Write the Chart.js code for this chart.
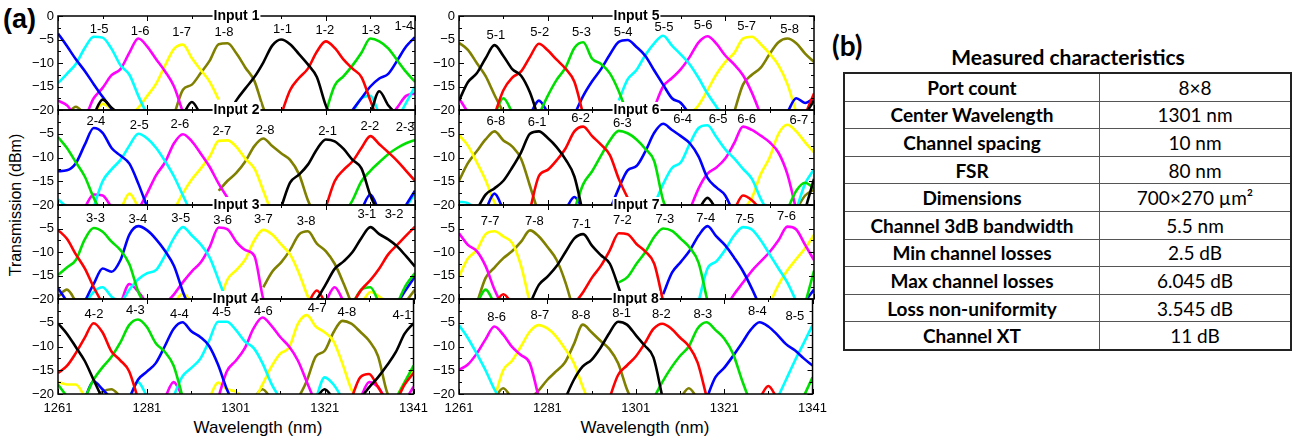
<!DOCTYPE html>
<html>
<head>
<meta charset="utf-8">
<script src="https://cdn.jsdelivr.net/npm/chart.js@4.4.0/dist/chart.umd.min.js"></script>
<style>
  body { margin: 0; background: #fff; }
  #fig { position: relative; width: 1296px; height: 443px; overflow: hidden; background: #fff; font-family: 'Liberation Sans', Arial, sans-serif; }
  .txt { position: absolute; white-space: nowrap; color: #000; }
  #tbl { position: absolute; left: 843px; top: 72px; width: 449px; border-collapse: collapse; border: 2px solid #222;
         font-family: Lato, 'Open Sans', sans-serif; font-size: 19px; color: #000; }
  #tbl td { border: 1px solid #555; padding: 0; text-align: center; height: 26.6px; line-height: 1; }
  #tbl td:first-child { width: 254px; font-weight: bold; }
</style>
</head>
<body>
<div id="fig">
  <div class="txt" style="left:3px;top:3px;font-size:27px;font-weight:bold;line-height:32px;">(a)</div>
  <div class="txt" style="left:-84px;top:195px;width:200px;height:20px;line-height:20px;text-align:center;font-size:16px;transform:rotate(-90deg);">Transmission (dBm)</div>
  <div class="txt" style="left:158px;top:417px;width:200px;text-align:center;font-size:17px;line-height:22px;">Wavelength (nm)</div>
  <div class="txt" style="left:545px;top:417px;width:200px;text-align:center;font-size:17px;line-height:22px;">Wavelength (nm)</div>
  <div class="txt" style="left:832px;top:29px;font-size:28px;font-weight:bold;line-height:32px;font-family:Lato,sans-serif;">(b)</div>
  <div class="txt" style="left:868px;top:45px;width:400px;text-align:center;font-size:21px;font-weight:bold;line-height:24px;font-family:Lato,sans-serif;">Measured characteristics</div>
  <table id="tbl"></table>
</div>
<script>
const _ = null;

// wavelength grid (nm)
const wavelengths = [1261,1263,1265,1267,1269,1271,1273,1275,1277,1279,
                     1281,1283,1285,1287,1289,1291,1293,1295,1297,1299,
                     1301,1303,1305,1307,1309,1311,1313,1315,1317,1319,
                     1321,1323,1325,1327,1329,1331,1333,1335,1337,1339,1341];

// output port colours, output 1..8
const outputColors = ['#000000', '#ff0000', '#00e000', '#0000ff', '#00ffff', '#ff00ff', '#ffff00', '#808000'];

// transmission (dBm) per input, one row per output 1..8
const input1 = [
  [_,_,_,_,-21,-17.8,-19.5,-21,_,_, _,_,_,_,-21,-18.3,-21,_,_,-21, -17.9,-15.4,-13,-9.9,-6.3,-5,-6,-8.1,-10.3,-13, -19,-23,_,_,_,-21,-16,-19,-21,_, _],
  [_,_,_,_,_,_,_,_,_,_, _,_,_,_,_,_,_,_,_,_, _,_,_,_,_,-21,-15.8,-13.2,-11.2,-7.6, -5.4,-6.8,-9.3,-11.2,-13,-18,-23,_,_,_, _],
  [_,_,_,_,_,_,_,_,_,_, _,_,_,_,_,_,_,_,_,_, _,_,_,_,_,_,_,_,_,_, -20.5,-14.8,-12.8,-10.5,-7.8,-4.8,-5.4,-6.9,-9.4,-11.9, -14],
  [-3.7,-6.4,-9.2,-11.7,-14.5,-17.2,-19.7,-22,_,_, _,_,_,_,_,_,_,_,_,_, _,_,_,_,_,_,_,_,_,_, _,_,_,-20,-17.5,-15,-13.3,-12.3,-9.5,-6.5, -4.5],
  [-14.3,-12.3,-10.2,-6.8,-4.4,-4.6,-7,-10.5,-12.5,-17, -21,_,_,_,_,_,_,_,_,_, _,_,_,_,_,_,_,_,_,_, _,_,_,-20.5,-17.5,-17,-21,_,-22,-18.5, -15],
  [-18,-19,-21,-21,-17.5,-15.3,-12.6,-11.3,-7.8,-4.8, -6.5,-9.2,-11.8,-15,-20.5,_,_,_,_,_, _,_,_,_,_,_,_,_,_,_, _,_,_,_,_,_,_,-22,-19.5,-17, -16.5],
  [_,_,_,_,-21,-18.7,-19.8,-21,-21,-19.5, -17,-14.4,-10.5,-7,-6.1,-9,-11.5,-14,-17.8,_, _,_,_,_,_,_,_,_,_,_, _,_,_,_,_,_,_,_,_,_, _],
  [_,-21,-19.3,-21,_,_,_,_,_,_, _,_,_,-21,-15.7,-14.6,-12.1,-9.5,-6,-5.8, -8,-11,-13.8,-19.5,-23,_,_,_,_,_, _,_,_,_,_,_,_,_,_,_, _]
];
const input2 = [
  [_,_,_,_,_,_,_,_,_,_, _,_,_,_,_,_,_,_,_,_, _,_,_,_,_,-20.5,-15.3,-13.6,-11.5,-8.3, -6.2,-6.6,-8.2,-10.5,-12.3,-18,-22,_,_,_, _],
  [_,_,_,_,_,_,_,_,_,_, _,_,_,_,_,_,_,_,_,_, _,_,_,_,_,_,_,_,_,_, -20.5,-15,-12.6,-10.8,-8,-5.5,-7.2,-8.9,-10.7,-12.8, -14.9],
  [-5.7,-8,-11,-14,-18.5,-22,_,_,_,_, _,_,_,_,_,_,_,_,_,_, _,_,_,_,_,_,_,_,_,_, _,_,-22,-19,-15,-12.8,-11,-9.3,-8,-7, -6.3],
  [-12.9,-12.7,-11.2,-7.3,-3.8,-4.8,-8,-9.6,-11.3,-15.5, -20.5,_,_,_,_,_,_,_,_,_, _,_,_,_,_,_,_,_,_,_, _,_,_,_,-21,-17.8,-21.5,_,_,-20, -17],
  [-18.8,-20.5,_,_,-20.5,-15,-12.5,-10.5,-7.5,-5, -6,-8,-10.8,-14,-18,-22,_,_,_,_, _,_,_,_,_,_,_,_,_,_, _,_,_,_,_,_,_,_,_,-20.5, -17.5],
  [_,_,_,-20.5,-17.8,-18,-20.5,_,_,-21, -17.5,-13.7,-11,-7,-5.1,-6.6,-9.2,-12,-15.5,-18.5, _,_,_,_,_,_,_,_,_,_, _,_,_,_,_,_,_,_,_,_, _],
  [_,_,_,_,_,_,_,-21,-17.6,-20.5, _,_,_,-21,-17.5,-14.6,-12.3,-9.8,-6.5,-6.4, -7.8,-10.3,-12.3,-17,-22,_,_,_,_,_, _,_,_,_,_,_,_,_,_,_, _],
  [_,_,_,_,_,_,_,_,_,_, _,_,_,_,_,_,_,_,-17,-14.9, -13.2,-10.8,-7.6,-6,-7.6,-9.1,-10.5,-13.5,-19,-23, _,_,_,_,_,_,_,_,_,_, _]
];
const input3 = [
  [_,_,_,_,_,_,_,_,_,_, _,_,_,_,_,_,_,_,_,_, _,_,_,_,_,_,_,_,-22,-20, -16.9,-13.6,-12,-10,-7,-4.7,-6.2,-7.3,-8.8,-10.9, -13.1],
  [-5.3,-7.2,-10.5,-13.5,-17.5,-21,_,_,_,_, _,_,_,_,_,_,_,_,_,_, _,_,_,_,_,_,_,_,-21,-18.2, -21,_,_,-21,-18,-16,-13.5,-10.5,-8.5,-6.5, -4.6],
  [-14.9,-13.3,-11.7,-7.3,-4.9,-5.7,-7.8,-9.6,-12.6,-18.5, -22,_,_,_,_,_,_,_,_,_, _,_,_,_,_,_,_,_,_,_, _,_,_,-21,-18,-17.5,-21,_,-21,-17, -14.5],
  [-17.7,-20.5,_,-20.5,-16.8,-13.5,-14.2,-11.7,-6.3,-4.5, -5.4,-7.3,-9.8,-13,-18.5,-23,_,_,_,_, _,_,_,_,_,_,_,_,_,_, _,_,_,_,_,_,_,_,-21,-18, -15.2],
  [_,_,_,-21,-18.5,-17.5,-19.5,-20.5,-18,-15.8, -14.5,-13.8,-10.7,-7,-4.7,-6.5,-8.4,-11.2,-16,-21, _,_,_,_,_,_,_,_,_,_, _,_,_,_,_,_,_,_,_,_, _],
  [_,_,_,_,_,_,_,-21,-16.8,-18.5, -21,_,-21,-19,-16.4,-14.1,-12.2,-8.9,-4.8,-5.2, -7.9,-9.6,-10.8,-20,-24,_,_,_,_,_, -20.5,-17.5,-20.5,_,_,_,_,_,_,_, _],
  [_,_,_,_,_,_,_,_,_,_, _,_,_,-21,-18.8,-21,_,_,-21,-15.8, -13.8,-11.5,-7.5,-5.3,-6.3,-8.4,-10.5,-14.5,-19.5,-23, _,_,_,_,-21,-18.5,-19.5,-21,_,_, _],
  [-19.5,-18,-20.5,_,_,_,_,_,_,_, _,_,_,_,_,_,_,_,_,_, _,_,_,-17.5,-14.2,-12.2,-9.6,-6.3,-5.6,-8.2, -9.8,-12.5,-16.7,-21.5,_,_,_,_,_,-20.5, -18]
];
const input4 = [
  [-5.1,-7.3,-10.1,-13,-17,-21,_,_,_,_, _,_,_,_,_,_,_,_,_,_, _,_,_,_,_,_,_,_,_,-21, -19,-21,_,_,-21,-18.6,-16.5,-14,-11.2,-7.3, -5.1],
  [-15.6,-14.1,-11.4,-8.2,-5.1,-7,-11,-12.9,-15.2,-21, _,_,_,_,_,_,_,_,_,_, _,_,_,_,_,_,_,_,_,_, _,_,_,-21,-16.5,-15.8,-18.5,-21,-21,-18, -15.6],
  [-18,-20.5,_,-21,-17,-14.4,-12.2,-9.2,-5.5,-4.3, -5.9,-9.3,-11.1,-14,-20.5,_,_,_,_,_, _,_,_,_,_,_,_,_,_,_, _,_,_,_,_,_,_,_,-21,-17.5, -14],
  [_,_,_,-21,-17.3,-19,-21,_,-21,-17, -15.3,-13.5,-10,-6.3,-4.9,-6.8,-8,-9.9,-13.8,-19, -23,_,_,_,_,_,_,_,_,_, _,_,_,_,_,_,_,_,_,_, _],
  [_,_,_,_,_,_,_,_,-21,-17.5, -20.5,_,_,-20.5,-16.3,-14.5,-12.6,-8.8,-4.8,-4.8, -6.5,-8.9,-10.3,-13.5,-17.8,-21,_,_,_,-21, -16.5,-18,-21,_,_,_,_,_,_,_, _],
  [_,_,_,_,_,_,_,_,_,_, _,_,-21,-17.5,-20.5,_,_,_,-21,-15.2, -13,-10.4,-6.2,-3.9,-5.6,-8,-10,-13,-17.5,-22, _,_,_,_,-21,-17.5,-18.5,-21,-21,-21, -18.5],
  [-17.5,-18,-18,-20.5,_,_,_,_,_,_, _,_,_,_,_,_,_,-21,-17.6,-19, -19.5,-21,-21,-18,-14.3,-11.5,-10.2,-5.2,-3.4,-5.8, -7,-8.9,-13.6,-19,-22,_,_,_,-21,-17.5, -15],
  [_,_,_,_,-21,-19.5,-19,-20.5,_,_, _,_,_,_,_,_,_,_,_,_, _,_,-21,-19,-21,_,_,-21,-17.2,-12.1, -10.9,-7,-4.6,-5.2,-6.9,-8.8,-12,-19.5,-23,_, _]
];
const input5 = [
  [-18,-14.1,-12.2,-9,-6.2,-8.5,-11.3,-12.7,-16.3,-22, _,_,_,_,_,_,_,_,_,_, _,_,_,_,_,_,_,_,_,_, _,_,_,_,_,_,_,_,_,-21, -18],
  [_,_,_,_,-21,-15.8,-13.1,-11.8,-8.7,-5.9, -7.3,-9.3,-11.2,-14,-21,_,_,_,_,_, _,_,_,_,_,_,_,_,_,_, _,_,_,_,_,_,_,_,_,-21, -16.5],
  [_,_,_,_,-21,-17.5,-20.5,_,_,-21, -17,-13.6,-11,-6.8,-5.6,-9.1,-10.2,-12.2,-16,-21, _,_,_,_,_,_,_,_,_,_, _,_,_,_,_,_,_,_,_,_, _],
  [_,_,_,_,_,_,_,_,-21,-18, -20.5,_,_,-21,-17,-13.9,-11.3,-8.2,-5.5,-5.1, -6.6,-8.5,-11.6,-14.6,-17.5,-18.5,-21,_,_,_, _,_,_,_,_,_,_,-20.5,-17.5,-18.5, -17.5],
  [_,_,_,_,_,_,_,_,_,_, _,_,_,_,_,_,_,_,-18,-13.5, -11.5,-8.3,-5.8,-4.2,-6.3,-8.2,-10.3,-13.2,-16.5,-19.3, -22,_,_,_,_,_,_,_,_,_, _],
  [-17.5,-20.5,_,_,_,_,_,_,_,_, _,_,_,_,_,_,_,_,_,_, _,_,-19.5,-15,-13.2,-11.3,-8.7,-5.6,-4.3,-5.9, -8.4,-10.3,-12.6,-16.3,-21,_,_,_,_,_, _],
  [_,_,_,_,_,_,_,_,_,_, _,_,_,_,_,_,_,_,_,_, _,_,_,_,_,_,-21,-19,-15.8,-12.4, -9.8,-7.9,-4.8,-4.4,-6,-8,-10.5,-14.5,-20.5,_, _],
  [-5.7,-7.2,-10,-12.8,-16.8,-20.5,_,_,_,_, _,_,_,_,_,_,_,_,_,_, _,_,_,_,_,_,_,_,_,_, _,-20.5,-14.6,-12.5,-11,-8.1,-5.6,-4.8,-5.8,-8, -9.8]
];
const input6 = [
  [_,_,-21,-17.8,-16.5,-14.9,-12.1,-8.9,-5,-4.5, -5.9,-7.8,-10.4,-14,-22,_,_,_,_,_, _,_,_,_,_,_,_,-21,-18.5,-21, _,_,_,_,_,_,_,_,_,-21, -14.5],
  [_,_,_,_,_,_,_,_,-21,-13.9, -12.6,-10.6,-8.1,-4.5,-3.5,-5.5,-7.3,-9.5,-14.5,-18.5, _,_,_,_,_,_,_,_,_,_, _,-21,-18,-19,-21,_,_,_,_,_, _],
  [_,_,_,_,_,_,_,_,_,_, _,_,_,-21,-15.6,-12.9,-9.6,-6.4,-4.4,-4.9, -6.2,-8.2,-10.8,-19,-23,_,_,_,_,_, _,_,_,_,_,_,_,-21,-17,-15.3, -16.5],
  [_,_,_,-21,-17.6,-21,_,_,_,_, _,_,-21,-18.3,-21,_,_,-21,-16.5,-12.7, -11.8,-8.7,-4.8,-2.9,-4.2,-5.5,-7,-9.8,-14.3,-16.3, -18,-22,_,_,_,_,_,_,_,_, _],
  [-19.3,-19.6,-21,_,_,_,_,_,_,_, _,_,_,_,_,_,_,_,_,_, _,_,-20,-15.6,-12.2,-11,-7.1,-3.8,-3.2,-5.7, -8.3,-10.2,-12.4,-14.5,-18.7,-22,_,_,-21,-15.5, -12.5],
  [_,_,_,_,_,_,_,_,_,_, _,_,_,_,_,_,_,_,_,_, _,_,_,_,_,_,-21,-16.5,-13.4,-12.1, -10.2,-7,-3.5,-4.2,-5.4,-6.8,-9,-13.5,-21,_, _],
  [-5.3,-7.5,-11,-14.8,-19.5,-22,_,_,_,_, _,_,_,_,_,_,_,_,_,_, _,_,_,_,_,_,_,_,_,_, _,_,-21,-18.5,-13.5,-10,-5,-3.1,-4.5,-6.8, -8.9],
  [-14.9,-11.2,-8.7,-6.2,-4.5,-6.4,-7.7,-10.3,-16,-22, _,_,_,_,_,_,_,_,_,_, _,_,_,_,_,_,_,_,_,_, _,_,_,_,_,_,_,_,-21,-18, -16.8]
];
const input7 = [
  [_,_,_,_,_,_,_,_,-21,-17, -15.2,-13,-10,-7.1,-6.2,-8.7,-10.7,-12.5,-17.6,-23, _,_,_,_,_,_,_,_,_,_, _,_,_,_,_,_,_,_,_,_, _],
  [_,_,_,_,-21,-19,-21,_,_,_, _,_,_,-21,-18.5,-15.4,-12.9,-9.6,-6,-6.2, -8.3,-9.9,-12.5,-20.5,_,_,_,_,_,_, _,_,_,_,_,_,_,_,_,_, _],
  [_,_,-21,-18,-21,_,_,_,_,_, _,_,_,_,_,_,_,_,-16.5,-15.3, -12.5,-10,-6.8,-5,-5.5,-7.2,-9.1,-12.3,-20.5,_, _,_,_,_,_,_,_,_,_,-21, -14],
  [_,_,_,_,_,_,_,_,_,_, _,_,_,_,_,_,_,_,_,_, _,_,_,-19,-14.4,-12.1,-9.7,-6.5,-4.5,-6.7, -8.6,-11.2,-14.1,-17.8,-22,_,_,_,_,-20.5, -18],
  [_,_,_,_,_,_,_,_,_,_, _,_,_,_,_,_,_,_,_,_, _,_,_,_,_,_,_,-20.5,-13.5,-12, -9.5,-6.5,-4.7,-5.2,-7.5,-10.5,-13.5,-16.5,-20.5,_, _],
  [-6,-8.5,-9.8,-13,-18,-22,_,_,_,_, _,_,_,_,_,_,_,_,_,_, _,_,_,_,_,_,_,_,_,_, -22,-19,-16.5,-14,-12,-10,-7.5,-4.6,-5.2,-8.5, -11.7],
  [-15.2,-11.4,-9.6,-6.2,-5.6,-6.7,-8.1,-13,-21,_, _,_,_,_,_,_,_,_,_,_, _,_,_,_,_,_,_,_,_,_, _,_,_,_,_,-21,-17,-13.9,-11.5,-9.2, -6.4],
  [_,_,-21,-15.5,-13.3,-11.3,-9.8,-7.8,-5.4,-6.7, -9,-11.7,-16.5,-23,_,_,_,_,_,_, _,_,_,_,_,_,_,_,_,_, _,_,_,_,_,_,_,_,_,_, _]
];
const input8 = [
  [_,_,_,_,_,_,_,_,_,_, _,_,-21,-17,-14.2,-12.8,-10.3,-7.2,-4.8,-5.4, -7.6,-9.8,-12.3,-20.5,_,_,_,_,_,_, _,_,_,_,_,_,_,_,_,_, _],
  [_,_,_,_,_,_,_,_,_,_, _,_,_,_,_,_,_,-21,-16,-14, -12.1,-9.4,-6.3,-5.2,-6.2,-8.1,-9.9,-13.4,-20.5,_, _,_,_,_,-21,-18.3,-21,_,_,_, _],
  [_,_,_,_,_,_,_,_,_,_, _,_,_,_,_,_,_,_,_,_, _,_,-21,-17.5,-14.5,-12,-10,-6.2,-4.9,-6.5, -8.3,-11.5,-17,-22,_,_,_,_,_,-20.5, -16.5],
  [_,_,_,_,_,_,_,_,_,_, _,_,_,_,_,_,_,_,_,_, _,_,_,_,_,_,_,_,-21,-16.5, -14.5,-12,-9.3,-6.5,-4.9,-5.8,-7.5,-9.5,-10.8,-12.5, -14],
  [-5.5,-8.2,-11.5,-15,-19,-22,_,_,_,_, _,_,_,_,_,_,_,_,_,_, _,_,_,_,_,_,_,_,_,_, _,_,_,_,_,_,-21,-17,-13,-9.3, -5.5],
  [-14.9,-13.8,-11.5,-8.5,-5.8,-7.5,-10.1,-11.8,-13.5,-20.5, _,_,_,_,_,_,_,_,_,_, _,_,_,_,_,_,_,_,_,_, _,_,_,_,_,_,_,_,_,_, _],
  [_,_,_,_,-21,-15,-13,-10,-6.9,-5.5, -6.2,-7.9,-10.5,-13.5,-18.5,-23,_,_,_,_, _,_,_,_,_,_,_,_,_,_, _,_,_,_,_,_,_,_,_,_, _],
  [_,_,_,_,-21,-18.8,-21,_,-21,-19.3, -17,-15.2,-13.3,-9.5,-5.4,-7,-8.8,-10.5,-13.5,-19, -23,_,_,_,_,-21,-18.8,-21,_,_, _,_,_,_,_,_,_,_,_,_, _]
];

// peak label positions (nm, dBm), output 1..8
const input1LabelNm = [1311.3, 1320.8, 1331.1, 1338.5, 1270.2, 1279.4, 1288.7, 1298.2];
const input1LabelDb = [-2.9, -3.0, -3.0, -2.2, -2.8, -3.2, -3.5, -3.5];
const input2LabelNm = [1321.4, 1330.9, 1338.8, 1269.5, 1279.2, 1288.3, 1297.7, 1307.4];
const input2LabelDb = [-4.6, -3.5, -3.7, -2.5, -3.3, -3.0, -4.6, -4.4];
const input3LabelNm = [1330.2, 1336.3, 1269.4, 1278.9, 1288.5, 1297.9, 1307.0, 1316.6];
const input3LabelDb = [-2.1, -2.1, -2.8, -3.0, -2.8, -3.2, -3.0, -3.4];
const input4LabelNm = [1338.4, 1269.1, 1278.4, 1288.3, 1297.8, 1307.2, 1319.3, 1326.0];
const input4LabelDb = [-3.4, -3.2, -2.5, -3.2, -2.8, -2.7, -2.0, -2.8];
const input5LabelNm = [1269.3, 1279.2, 1288.6, 1298.0, 1307.2, 1316.0, 1325.8, 1335.5];
const input5LabelDb = [-4.1, -3.4, -3.5, -3.4, -2.5, -2.1, -2.3, -2.9];
const input6LabelNm = [1278.6, 1288.4, 1297.8, 1311.4, 1319.4, 1325.8, 1337.6, 1269.3];
const input6LabelDb = [-2.7, -1.8, -2.8, -1.9, -1.9, -1.9, -2.1, -2.3];
const input7LabelNm = [1288.6, 1297.8, 1307.4, 1316.6, 1325.4, 1334.8, 1268.0, 1278.0];
const input7LabelDb = [-4.1, -3.3, -3.0, -2.8, -3.0, -2.5, -3.4, -3.5];
const input8LabelNm = [1297.8, 1306.8, 1316.2, 1328.5, 1337.0, 1269.5, 1279.3, 1288.6];
const input8LabelDb = [-3.0, -3.2, -3.2, -2.7, -3.7, -3.9, -3.4, -3.4];

// table (b)
const tableParams = ['Port count', 'Center Wavelength', 'Channel spacing', 'FSR', 'Dimensions',
                     'Channel 3dB bandwidth', 'Min channel losses', 'Max channel losses', 'Loss non-uniformity', 'Channel XT'];
const tableValues = ['8×8', '1301 nm', '10 nm', '80 nm', '700×270 µm²', '5.5 nm', '2.5 dB', '6.045 dB', '3.545 dB', '11 dB'];

const inputs = [input1, input2, input3, input4, input5, input6, input7, input8];
const labelNms = [input1LabelNm, input2LabelNm, input3LabelNm, input4LabelNm, input5LabelNm, input6LabelNm, input7LabelNm, input8LabelNm];
const labelDbs = [input1LabelDb, input2LabelDb, input3LabelDb, input4LabelDb, input5LabelDb, input6LabelDb, input7LabelDb, input8LabelDb];

// page layout
const colLeft = [58, 459], colWidth = [357, 355];
const rowTop = [16, 110, 205, 299], rowBottom = [110, 205, 299, 394];
const AXIS_W = 50, PAD_T = 12, PAD_R = 20, PAD_B = 12, X_AXIS_H = 30;
const FONT = "'Liberation Sans', Arial, sans-serif";

Chart.defaults.font.family = FONT;
Chart.defaults.color = '#000';

// frame, inward ticks, port labels and the "Input n" tag
const panelDeco = {
  id: 'panelDeco',
  afterDraw(chart, args, opts) {
    const { ctx, chartArea: a, scales: { x, y } } = chart;
    ctx.save();
    ctx.strokeStyle = '#000';
    ctx.lineWidth = 1;
    ctx.beginPath();
    for (let v = -20; v <= 0; v += 2.5) {
      const py = Math.round(y.getPixelForValue(v)) + 0.5;
      const len = v % 5 === 0 ? 5 : 3;
      ctx.moveTo(a.left, py); ctx.lineTo(a.left + len, py);
      ctx.moveTo(a.right - len, py); ctx.lineTo(a.right, py);
    }
    for (let v = 1261; v <= 1341; v += 10) {
      const px = Math.round(x.getPixelForValue(v)) + 0.5;
      const len = (v - 1261) % 20 === 0 ? 5 : 3;
      ctx.moveTo(px, a.bottom); ctx.lineTo(px, a.bottom - len);
      ctx.moveTo(px, a.top); ctx.lineTo(px, a.top + len);
    }
    ctx.stroke();
    ctx.lineWidth = 1.5;
    ctx.strokeRect(a.left, a.top, a.right - a.left, a.bottom - a.top);

    ctx.fillStyle = '#000';
    ctx.font = '13px ' + FONT;
    ctx.textAlign = 'center';
    ctx.textBaseline = 'middle';
    opts.labelNm.forEach((nm, j) => {
      ctx.fillText(opts.input + '-' + (j + 1), x.getPixelForValue(nm), y.getPixelForValue(opts.labelDb[j]));
    });

    ctx.font = 'bold 14px ' + FONT;
    const t = 'Input ' + opts.input;
    const tw = ctx.measureText(t).width;
    const cx = (a.left + a.right) / 2;
    ctx.fillStyle = '#fff';
    ctx.fillRect(cx - tw / 2 - 1, a.top - 8, tw + 2, 12);
    ctx.fillStyle = '#000';
    ctx.fillText(t, cx, a.top + 0.5);
    ctx.restore();
  }
};

function buildPanel(p) {
  const col = p < 4 ? 0 : 1, row = p % 4;
  const isTop = row === 0, isBottom = row === 3;
  const plotH = rowBottom[row] - rowTop[row];
  const w = AXIS_W + colWidth[col] + PAD_R;
  const h = PAD_T + plotH + (isBottom ? X_AXIS_H : PAD_B);
  const canvas = document.createElement('canvas');
  canvas.width = w;
  canvas.height = h;
  canvas.style.cssText = 'position:absolute;left:' + (colLeft[col] - AXIS_W) + 'px;top:' + (rowTop[row] - PAD_T) +
    'px;width:' + w + 'px;height:' + h + 'px;';
  document.getElementById('fig').appendChild(canvas);

  new Chart(canvas, {
    type: 'line',
    data: {
      datasets: inputs[p].map((vals, j) => ({
        label: (p + 1) + '-' + (j + 1),
        data: vals.map((v, i) => ({ x: wavelengths[i], y: v })),
        borderColor: outputColors[j],
        borderWidth: 2.6,
        pointRadius: 0,
        cubicInterpolationMode: 'monotone',
        spanGaps: false,
        clip: 0
      }))
    },
    options: {
      responsive: false,
      animation: false,
      events: [],
      layout: { padding: { left: 0, top: PAD_T, right: PAD_R, bottom: isBottom ? 0 : PAD_B } },
      plugins: {
        legend: { display: false },
        tooltip: { enabled: false },
        panelDeco: { input: p + 1, labelNm: labelNms[p], labelDb: labelDbs[p] }
      },
      scales: {
        x: {
          type: 'linear', min: 1261, max: 1341,
          display: isBottom,
          grid: { display: false, drawTicks: false },
          border: { display: false },
          ticks: { stepSize: 20, autoSkip: false, maxRotation: 0, padding: 7, font: { size: 13 }, color: '#000',
                   callback: v => String(v) },
          afterFit: s => { s.height = isBottom ? X_AXIS_H : 0; }
        },
        y: {
          min: -20, max: 0,
          grid: { display: false, drawTicks: false },
          border: { display: false },
          ticks: {
            stepSize: 5, autoSkip: false, padding: 4, font: { size: 13 }, color: '#000',
            callback: v => (v === 0 && !isTop) ? '' : (v < 0 ? '\u2212' + (-v) : String(v))
          },
          afterFit: s => { s.width = AXIS_W; }
        }
      }
    },
    plugins: [panelDeco]
  });
}

for (let p = 0; p < 8; p++) buildPanel(p);

const tbl = document.getElementById('tbl');
tableParams.forEach((name, i) => {
  const tr = document.createElement('tr');
  tr.innerHTML = '<td>' + name + '</td><td>' + tableValues[i] + '</td>';
  tbl.appendChild(tr);
});
</script>
</body>
</html>
